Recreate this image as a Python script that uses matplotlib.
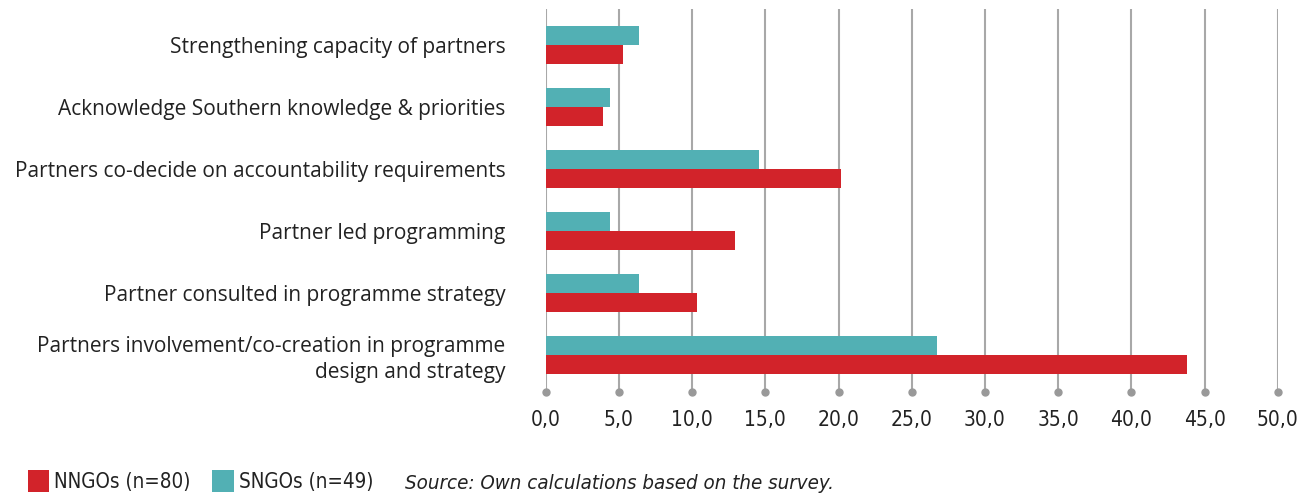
import numpy as np
import matplotlib.pyplot as plt

categories = [
    "Strengthening capacity of partners",
    "Acknowledge Southern knowledge & priorities",
    "Partners co-decide on accountability requirements",
    "Partner led programming",
    "Partner consulted in programme strategy",
    "Partners involvement/co-creation in programme\ndesign and strategy",
]
nngo = [5.3, 3.9, 20.2, 12.9, 10.3, 43.8]
sngo = [6.4, 4.4, 14.6, 4.4, 6.4, 26.7]
xticks = [0, 5, 10, 15, 20, 25, 30, 35, 40, 45, 50]

red = "#D2232A"
teal = "#52B0B4"
grid = "#A8A8A8"
cond = {"family": "DejaVu Sans", "stretch": "condensed"}

fig = plt.figure(figsize=(13.11, 4.97), dpi=100)
ax = fig.add_axes([0.4163, 0.2113, 0.9746 - 0.4163, 0.982 - 0.2113])

y = np.arange(len(categories))
h = 0.31
b_n = ax.barh(y + h / 2, nngo, height=h, color=red, label="NNGOs (n=80)", zorder=3)
b_s = ax.barh(y - h / 2, sngo, height=h, color=teal, label="SNGOs (n=49)", zorder=3)

ax.set_xlim(0, 50)
ax.set_ylim(5.6, -0.58)
ax.set_xticks(xticks)
ax.set_xticklabels([f"{t:.1f}".replace(".", ",") for t in xticks],
                   fontsize=15, color="#222222", **cond)
ax.set_yticks(y)
ax.set_yticklabels(categories, fontsize=15, family=["Open Sans", "DejaVu Sans"], color="#222222",
                   linespacing=1.3)
ax.tick_params(axis="both", length=0)
ax.tick_params(axis="y", pad=29)
ax.tick_params(axis="x", pad=13)
for s in ax.spines.values():
    s.set_visible(False)
ax.xaxis.grid(True, color=grid, linewidth=1.5, zorder=0)
ax.plot(xticks, [0] * len(xticks), "o", color="#999999", markersize=5,
        transform=ax.get_xaxis_transform(), clip_on=False, zorder=4)

leg = fig.legend(handles=[b_n, b_s], loc="lower left", bbox_to_anchor=(0.007, -0.027),
                 ncol=2, frameon=False, handlelength=1.05, handleheight=1.3,
                 handletextpad=0.25, columnspacing=1.05,
                 prop={"size": 14.8, **cond})
for t in leg.get_texts():
    t.set_color("#222222")
fig.text(0.309, 0.016, "Source: Own calculations based on the survey.", fontsize=14.7,
         style="italic", color="#222222", **cond)

fig.savefig("out.png", dpi=100)
